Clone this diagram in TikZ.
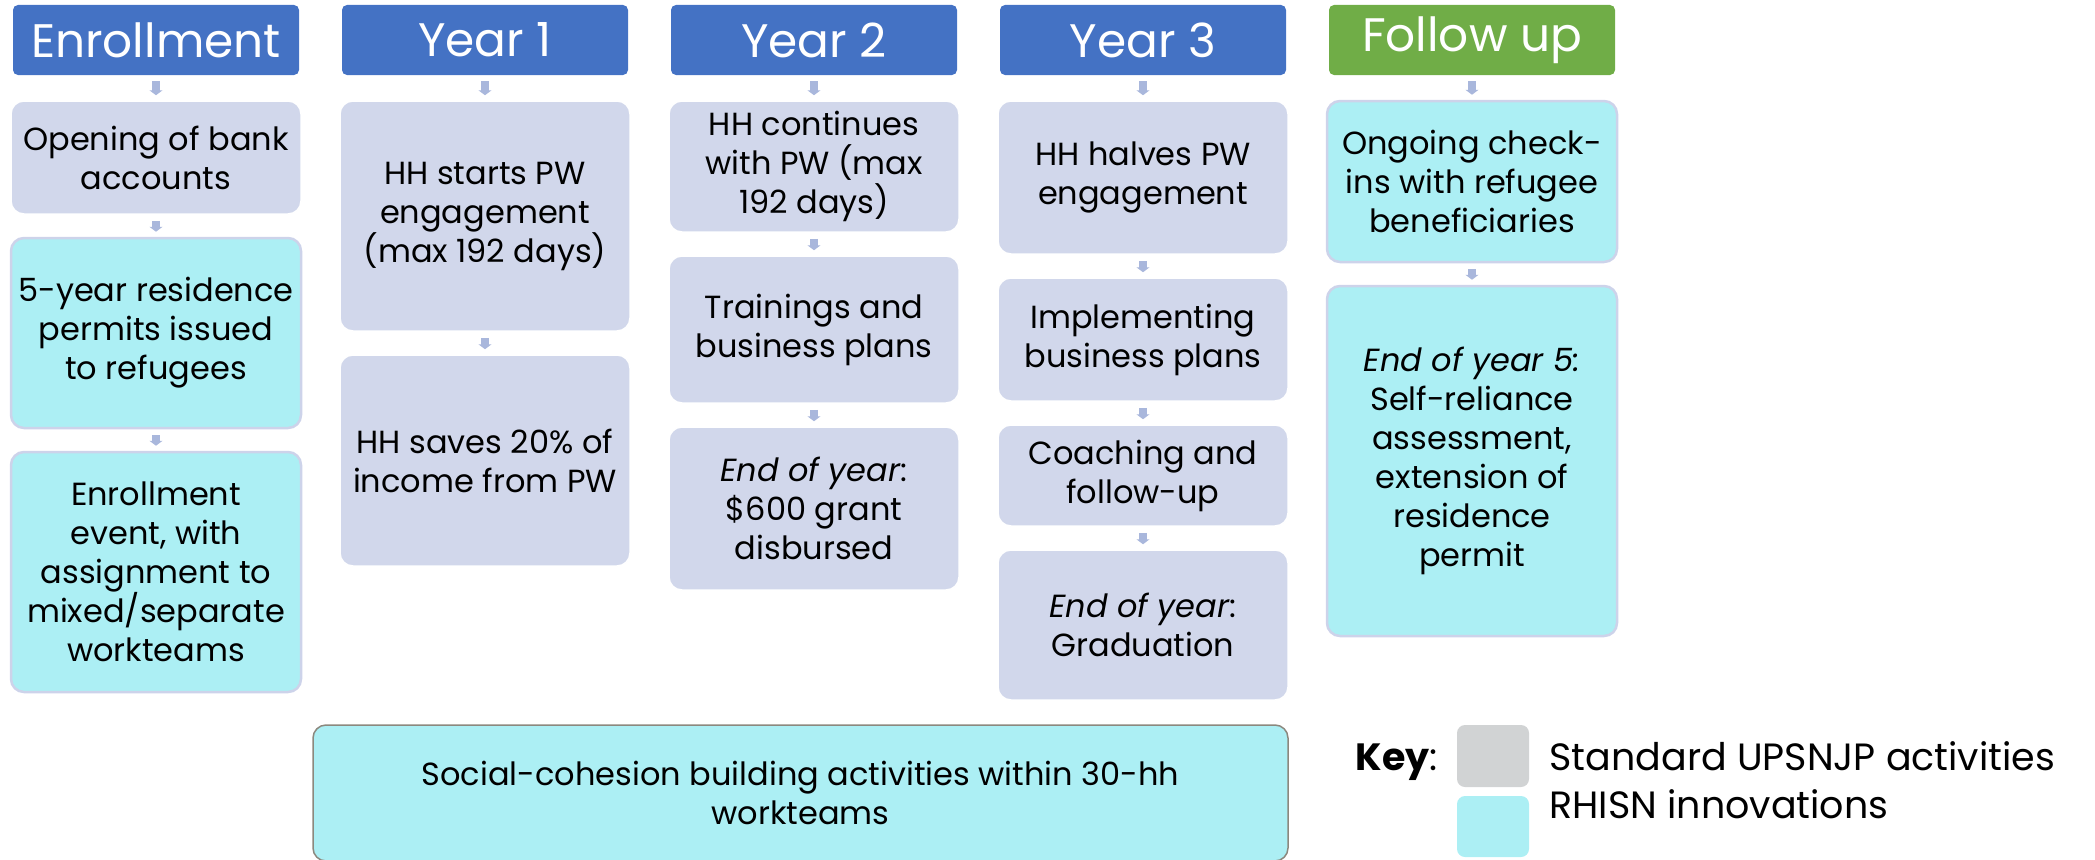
\documentclass[tikz,border=0pt]{standalone}
\usepackage{fontspec}
\setmainfont{Poppins}
\usetikzlibrary{arrows.meta,positioning}
\definecolor{headblue}{RGB}{68,114,196}
\definecolor{headgreen}{RGB}{112,173,71}
\definecolor{stdfill}{RGB}{209,215,235}
\definecolor{innofill}{RGB}{172,239,244}
\definecolor{innoline}{RGB}{205,211,234}
\definecolor{keygrey}{RGB}{209,211,212}
\definecolor{flowcol}{RGB}{169,183,220}
\definecolor{cohline}{RGB}{140,136,126}

\begin{document}
\begin{tikzpicture}[x=1pt, y=-1pt,
        head/.style={rectangle, rounded corners=5pt, fill=#1, text=white, minimum width=286pt, minimum height=70pt, inner sep=0pt, font=\fontsize{47}{50}\selectfont},
        std/.style={rectangle, rounded corners=13pt, fill=stdfill, draw=white, line width=1.5pt, minimum width=290pt, minimum height=#1pt, align=center, inner sep=0pt, font=\fontsize{32}{39}\selectfont},
        inno/.style={std=#1, fill=innofill, draw=innoline, line width=2.5pt},
        keytext/.style={anchor=base west, font=\fontsize{38}{40}\selectfont},
        flow/.style={-{Triangle[width=13pt,length=5pt]}, flowcol, line width=8pt, shorten <=6pt, shorten >=5pt}]

        \useasboundingbox (0,0) rectangle (2095,859);

        % Nodes
        \node[head=headblue] (enr) at (156,40) {Enrollment};
        \node[head=headblue] (y1) at (485,40) {Year 1};
        \node[head=headblue] (y2) at (814,40) {Year 2};
        \node[head=headblue] (y3) at (1143,40) {Year 3};
        \node[head=headgreen] (fu) at (1472,40) {Follow up};

        \node[std=113] (bank) at (156,157.5) {Opening of bank\\accounts};
        \node[inno=190] (permit) at (156,333) {5-year residence\\permits issued\\to refugees};
        \node[inno=240] (event) at (156,572) {Enrollment\\event, with\\assignment to\\mixed/separate\\workteams};

        \node[std=230] (start) at (485,216) {HH starts PW\\engagement\\(max 192 days)};
        \node[std=211] (save) at (485,460.5) {HH saves 20\% of\\income from PW};

        \node[std=131] (cont) at (814,166.5) {HH continues\\with PW (max\\192 days)};
        \node[std=147] (train) at (814,329.5) {Trainings and\\business plans};
        \node[std=163] (grant) at (814,508.5) {\textit{End of year}:\\\$600 grant\\disbursed};

        \node[std=153] (halve) at (1143,177.5) {HH halves PW\\engagement};
        \node[std=123] (impl) at (1143,339.5) {Implementing\\business plans};
        \node[std=101] (coach) at (1143,475.5) {Coaching and\\follow-up};
        \node[std=150] (grad) at (1143,625) {\textit{End of year}:\\Graduation};

        \node[inno=161] (check) at (1472,181.5) {Ongoing check-\\ins with refugee\\beneficiaries};
        \node[inno=350] (assess) at (1472,461) {\textit{End of year 5:}\\Self-reliance\\assessment,\\extension of\\residence\\permit};

        \node[inno=136, minimum width=975pt, draw=cohline, line width=1.5pt] (cohesion) at (800.5,793) {Social-cohesion building activities within 30-hh\\workteams};

        % Key
        \node[keytext] (key) at (1352,770) {\textbf{Key}:};
        \node[rectangle, rounded corners=8pt, fill=keygrey, minimum width=72pt, minimum height=62pt] (keystd) at (1493,756) {};
        \node[rectangle, rounded corners=8pt, fill=innofill, minimum width=72pt, minimum height=61pt] (keyinn) at (1493,826.5) {};
        \node[keytext] (stdlabel) at (1546,770) {Standard UPSNJP activities};
        \node[keytext] (innlabel) at (1546,818) {RHISN innovations};

        % Connections
        \draw[flow] (enr) -- (bank);
        \draw[flow] (bank) -- (permit);
        \draw[flow] (permit) -- (event);
        \draw[flow] (y1) -- (start);
        \draw[flow] (start) -- (save);
        \draw[flow] (y2) -- (cont);
        \draw[flow] (cont) -- (train);
        \draw[flow] (train) -- (grant);
        \draw[flow] (y3) -- (halve);
        \draw[flow] (halve) -- (impl);
        \draw[flow] (impl) -- (coach);
        \draw[flow] (coach) -- (grad);
        \draw[flow] (fu) -- (check);
        \draw[flow] (check) -- (assess);

    \end{tikzpicture}
\end{document}
